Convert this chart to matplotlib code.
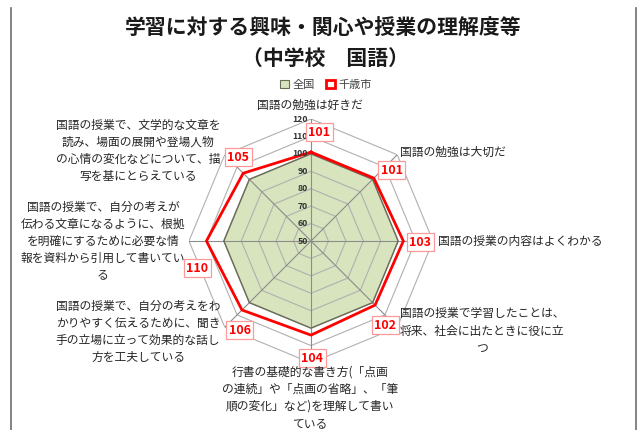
import numpy as np
import matplotlib
matplotlib.use('Agg')
import matplotlib.pyplot as plt
from matplotlib.lines import Line2D
from matplotlib.patches import Patch

plt.rcParams['font.family'] = ['Noto Sans CJK JP', 'DejaVu Sans']

# data
categories = [
    '国語の勉強は好きだ',
    '国語の勉強は大切だ',
    '国語の授業の内容はよくわかる',
    '国語の授業で学習したことは、\n将来、社会に出たときに役に立\nつ',
    '行書の基礎的な書き方(「点画\nの連続」や「点画の省略」、「筆\n順の変化」など)を理解して書い\nている',
    '国語の授業で、自分の考えをわ\nかりやすく伝えるために、聞き\n手の立場に立って効果的な話し\n方を工夫している',
    '国語の授業で、自分の考えが\n伝わる文章になるように、根拠\nを明確にするために必要な情\n報を資料から引用して書いてい\nる',
    '国語の授業で、文学的な文章を\n読み、場面の展開や登場人物\nの心情の変化などについて、描\n写を基にとらえている',
]
national = [100, 100, 100, 100, 100, 100, 100, 100]
chitose = [101, 101, 103, 102, 104, 106, 110, 105]
r_ticks = [50, 60, 70, 80, 90, 100, 110, 120]

W, H = 637, 430
fig = plt.figure(figsize=(W / 100, H / 100), dpi=100)

cx, cy, R = 311, 241, 122
ax = fig.add_axes([(cx - R) / W, (H - cy - R) / H, 2 * R / W, 2 * R / H],
                  projection='polar')
ax.set_theta_zero_location('N')
ax.set_theta_direction(-1)
ax.set_ylim(50, 120)
ax.grid(False)
ax.spines['polar'].set_visible(False)
ax.set_xticks([])
ax.set_yticks([])
ax.patch.set_alpha(0)

n = len(categories)
theta = np.arange(n) * 2 * np.pi / n
th_c = np.append(theta, theta[0])

# national fill
ax.fill(th_c, national + national[:1], color='#d7e4bd', zorder=1)
ax.plot(th_c, national + national[:1], color='#6b6b5a', lw=1.0, zorder=3)

# octagonal grid
for r in r_ticks:
    ax.plot(th_c, [r] * (n + 1), color='#b0b0b0', lw=0.8, zorder=2)
for t in theta:
    ax.plot([t, t], [50, 120], color='#8c8c8c', lw=0.8, zorder=2)

# Chitose line
ax.plot(th_c, chitose + chitose[:1], color='#ff0000', lw=2.0, zorder=4)

# tick labels
for r in r_ticks:
    ax.annotate(str(r), xy=(0, r), xytext=(-3, 0), textcoords='offset pixels',
                ha='right', va='center', fontsize=6.3, fontweight='bold',
                color='#333333', zorder=5)

# value labels
offs = [(8, 20), (18, 8), (17, -1), (10, -20), (1, -23), (-2, -20), (-9, -27), (-5, 16)]
for t, v, o in zip(theta, chitose, offs):
    ax.annotate(str(v), xy=(t, v), xytext=o, textcoords='offset pixels',
                ha='center', va='center', fontsize=9, fontweight='bold',
                color='#ff0000', zorder=6,
                bbox=dict(boxstyle='square,pad=0.2', fc='white', ec='#ff9999', lw=0.9))

# category labels (pixel positions)
cat_pos = [
    (310, 105, 'center', 'center'),
    (400, 152, 'left', 'center'),
    (438, 241, 'left', 'center'),
    (482, 331, 'center', 'center'),
    (310, 398, 'center', 'center'),
    (138, 332, 'center', 'center'),
    (103, 241, 'center', 'center'),
    (138, 151, 'center', 'center'),
]
for txt, (x, y, ha, va) in zip(categories, cat_pos):
    fig.text(x / W, 1 - y / H, txt, ha=ha, va=va, fontsize=8.5,
             color='#262626', linespacing=1.4, multialignment='center')

# title
fig.text(323 / W, 1 - 28 / H, '学習に対する興味・関心や授業の理解度等',
         ha='center', va='center', fontsize=15, fontweight='bold', color='#1a1a1a')
fig.text(325 / W, 1 - 58 / H, '（中学校　国語）',
         ha='center', va='center', fontsize=15, fontweight='bold', color='#1a1a1a')

# legend
handles = [Patch(fc='#d7e4bd', ec='#6b6b5a', lw=0.8, label='全国'),
           Patch(fc='white', ec='#ff0000', lw=2.0, label='千歳市')]
fig.legend(handles=handles, loc='center', bbox_to_anchor=(326 / W, 1 - 85 / H),
           ncol=2, frameon=False, fontsize=8, handlelength=0.8, handleheight=0.8,
           handletextpad=0.3, columnspacing=1.0, labelcolor='#404040')

# frame lines
for x in (10.5, 635.5):
    fig.add_artist(Line2D([x / W, x / W], [0, 1 - 8 / H], color='#6e6e6e', lw=1.2))

fig.savefig('out.png', dpi=100)
